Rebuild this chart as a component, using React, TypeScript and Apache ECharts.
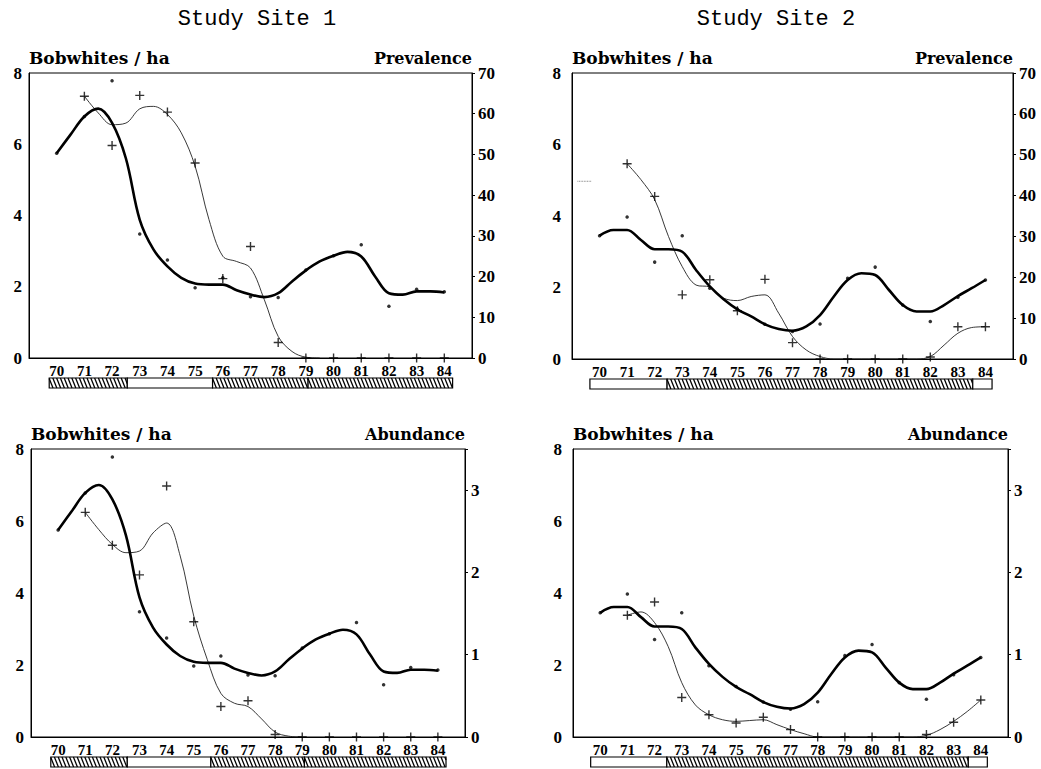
import { useEffect, useRef } from "react";
import * as echarts from "echarts";

// ---------- data ----------
const yearLabels = ["70", "71", "72", "73", "74", "75", "76", "77", "78", "79", "80", "81", "82", "83", "84"];
const years = [70, 71, 72, 73, 74, 75, 76, 77, 78, 79, 80, 81, 82, 83, 84];
const crossYears = [71, 72, 73, 74, 75, 76, 77, 78, 79, 80, 81, 82, 83, 84];
const halfYears = [70, 70.5, 71, 71.5, 72, 72.5, 73, 73.5, 74, 74.5, 75, 75.5, 76, 76.5, 77, 77.5, 78, 78.5, 79, 79.5, 80, 80.5, 81, 81.5, 82, 82.5, 83, 83.5, 84];

// Study Site 1
const s1BobDots = [5.75, 6.78, 7.78, 3.48, 2.75, 1.97, 2.25, 1.72, 1.7, 2.47, 2.87, 3.18, 1.45, 1.93, 1.86];
const s1BobCurve = [5.75, 6.27, 6.78, 7.0, 6.6, 5.6, 3.88, 3.04, 2.57, 2.25, 2.09, 2.06, 2.06, 1.9, 1.78, 1.71, 1.82, 2.15, 2.46, 2.71, 2.87, 2.98, 2.85, 2.29, 1.82, 1.78, 1.87, 1.87, 1.84];
const s1Prevalence = [64.3, 52.2, 64.5, 60.4, 47.9, 19.5, 27.4, 3.8, 0, 0, 0, 0, 0, 0];
const s1PrevCurve = [64.3, 60.2, 57.3, 57.7, 61.2, 61.8, 59.8, 55.3, 47.1, 34, 25, 23.7, 22.1, 14.3, 5.3, 1.6, 0.2, 0];
const s1Abundance = [2.73, 2.33, 1.97, 3.05, 1.4, 0.37, 0.44, 0.03, 0, 0, 0, 0, 0, 0];
const s1AbundCurve = [2.73, 2.52, 2.34, 2.24, 2.26, 2.48, 2.6, 2.2, 1.47, 0.94, 0.53, 0.41, 0.37, 0.22, 0.06, 0.01, 0];
const s1BandStart = [69.73, 72.55, 75.63, 79.08];
const s1BandEnd = [72.55, 75.63, 79.08, 84.3];
const s1BandHatched = [1, 0, 1, 1];

// Study Site 2
const s2BobDots = [3.45, 3.97, 2.71, 3.45, 1.98, 1.4, 0.97, 0.77, 0.98, 2.26, 2.57, 1.51, 1.05, 1.73, 2.21];
const s2BobCurve = [3.45, 3.61, 3.61, 3.33, 3.07, 3.07, 3.0, 2.49, 2.03, 1.67, 1.39, 1.19, 0.97, 0.84, 0.79, 0.91, 1.23, 1.75, 2.21, 2.4, 2.35, 1.93, 1.51, 1.33, 1.33, 1.51, 1.76, 1.98, 2.21];
const s2Prevalence = [47.8, 39.8, 15.7, 19.4, 11.8, 19.5, 4.0, 0, 0, 0, 0, 0.5, 7.9, 7.9];
const s2PrevCurve = [47.8, 43.9, 39.0, 30.0, 22.6, 18.1, 17.6, 14.9, 14.3, 15.3, 15.7, 11.2, 5.5, 2.2, 0.6, 0, 0, 0, 0, 0, 0, 0, 0.6, 3.4, 6.3, 7.7, 7.9];
const s2PrevFragmentX = [69.2, 69.7];
const s2PrevFragmentY = [43.5, 43.5];
const s2Abundance = [1.48, 1.64, 0.48, 0.27, 0.17, 0.24, 0.09, 0, 0, 0, 0, 0.03, 0.18, 0.45];
const s2AbundCurve = [1.48, 1.52, 1.39, 1.1, 0.66, 0.39, 0.27, 0.21, 0.19, 0.2, 0.21, 0.15, 0.09, 0.04, 0, 0, 0, 0, 0, 0, 0, 0, 0.02, 0.09, 0.19, 0.31, 0.45];
const s2BandStart = [69.65, 72.45, 83.54];
const s2BandEnd = [72.45, 83.54, 84.24];
const s2BandHatched = [0, 1, 0];

const titles = ["Study Site 1", "Study Site 2"];
const leftAxisName = "Bobwhites / ha";
const rightAxisNames = ["Prevalence", "Abundance"];

// ---------- helpers ----------
const zip = (xs: number[], ys: number[]) => xs.map((x, i) => [x, ys[i]]);
const bands = (s: number[], e: number[], h: number[]) => s.map((v, i) => [v, e[i], h[i]]);

const NUM_FONT = "'Liberation Serif', 'DejaVu Serif', serif";
const NAME_FONT = "'DejaVu Serif', serif";
const TITLE_FONT = "'Liberation Mono', monospace";

const grids = [
  { left: 29, top: 73, width: 443, height: 285 },
  { left: 572, top: 73, width: 441, height: 286 },
  { left: 31, top: 449, width: 434, height: 288 },
  { left: 573, top: 449, width: 435, height: 288 },
];

const BAND_OFFSET = 20;
const BAND_H = 10;

function renderBand(params: any, api: any) {
  const a = api.coord([api.value(0), 0]);
  const b = api.coord([api.value(1), 0]);
  const x0 = a[0];
  const x1 = b[0];
  const top = a[1] + BAND_OFFSET;
  const h = BAND_H;
  const children: any[] = [
    { type: "rect", shape: { x: x0, y: top, width: x1 - x0, height: h }, style: { fill: "#fff", stroke: null } },
  ];
  if (api.value(2)) {
    const dx = 4;
    const gap = 3.8;
    for (let s = x0 - dx; s < x1; s += gap) {
      let xs = s, ys = top, xe = s + dx, ye = top + h;
      if (xs < x0) {
        const t = (x0 - xs) / dx;
        xs = x0;
        ys = top + t * h;
      }
      if (xe > x1) {
        const t = (xe - x1) / dx;
        xe = x1;
        ye = top + h - t * h;
      }
      if (xe <= xs) continue;
      children.push({ type: "line", shape: { x1: xs, y1: ys, x2: xe, y2: ye }, style: { stroke: "#000", lineWidth: 1.3 } });
    }
  }
  children.push({
    type: "rect",
    shape: { x: x0, y: top, width: x1 - x0, height: h },
    style: { fill: "none", stroke: "#000", lineWidth: 1.2 },
  });
  return { type: "group", children };
}

const CROSS = "path://M5 0L5 10M0 5L10 5";

export default function App() {
  const ref = useRef<HTMLDivElement>(null);

  useEffect(() => {
    document.body.style.margin = "0";
    const chart = echarts.init(ref.current!, null, { renderer: "svg" });

    const panels = [
      { bobDots: s1BobDots, bobCurve: s1BobCurve, cross: s1Prevalence, curveX: halfYears.slice(2, 20), curve: s1PrevCurve, band: bands(s1BandStart, s1BandEnd, s1BandHatched), rmax: 70, rint: 10, rname: rightAxisNames[0], lmargin: 7 },
      { bobDots: s2BobDots, bobCurve: s2BobCurve, cross: s2Prevalence, curveX: halfYears.slice(2), curve: s2PrevCurve, band: bands(s2BandStart, s2BandEnd, s2BandHatched), rmax: 70, rint: 10, rname: rightAxisNames[0], lmargin: 11 },
      { bobDots: s1BobDots, bobCurve: s1BobCurve, cross: s1Abundance, curveX: halfYears.slice(2, 19), curve: s1AbundCurve, band: bands(s1BandStart, s1BandEnd, s1BandHatched), rmax: 3.5, rint: 1, rname: rightAxisNames[1], lmargin: 7 },
      { bobDots: s2BobDots, bobCurve: s2BobCurve, cross: s2Abundance, curveX: halfYears.slice(2), curve: s2AbundCurve, band: bands(s2BandStart, s2BandEnd, s2BandHatched), rmax: 3.5, rint: 1, rname: rightAxisNames[1], lmargin: 11 },
    ];

    const xAxis: any[] = [];
    const yAxis: any[] = [];
    const series: any[] = [];

    panels.forEach((p, i) => {
      xAxis.push({
        gridIndex: i,
        type: "value",
        min: 69,
        max: 85,
        interval: 1,
        axisLine: { show: true, lineStyle: { color: "#000", width: 1 } },
        axisTick: { show: false },
        splitLine: { show: false },
        axisLabel: {
          color: "#000",
          fontFamily: NUM_FONT,
          fontWeight: "bold",
          fontSize: 15,
          margin: 5,
          formatter: (v: number) => yearLabels[years.indexOf(v)] ?? "",
        },
      });
      yAxis.push({
        gridIndex: i,
        type: "value",
        position: "left",
        min: 0,
        max: 8,
        interval: 2,
        axisLine: { show: true, lineStyle: { color: "#000", width: 1 } },
        axisTick: { show: false },
        splitLine: { show: false },
        axisLabel: { color: "#000", fontFamily: NUM_FONT, fontWeight: "bold", fontSize: 17, margin: p.lmargin },
        name: leftAxisName,
        nameLocation: "end",
        nameGap: 7,
        nameTextStyle: { color: "#000", fontFamily: NAME_FONT, fontWeight: "bold", fontSize: 17, align: "left" },
      });
      yAxis.push({
        gridIndex: i,
        type: "value",
        position: "right",
        min: 0,
        max: p.rmax,
        interval: p.rint,
        axisLine: { show: true, lineStyle: { color: "#000", width: 1 } },
        axisTick: { show: true, length: 3, lineStyle: { color: "#000" } },
        splitLine: { show: false },
        axisLabel: {
          color: "#000",
          fontFamily: NUM_FONT,
          fontWeight: "bold",
          fontSize: 17,
          margin: 6,
          formatter: (v: number) => (Number.isInteger(v) ? String(v) : ""),
        },
        name: p.rname,
        nameLocation: "end",
        nameGap: 7,
        nameTextStyle: { color: "#000", fontFamily: NAME_FONT, fontWeight: "bold", fontSize: 16, align: "right" },
      });

      const ly = i * 2;
      const ry = i * 2 + 1;

      series.push({
        type: "custom",
        xAxisIndex: i,
        yAxisIndex: ly,
        clip: false,
        silent: true,
        encode: { x: [0, 1], y: 2 },
        renderItem: renderBand,
        data: p.band,
        z: 1,
      });
      series.push({
        type: "line",
        xAxisIndex: i,
        yAxisIndex: ry,
        data: zip(p.curveX, p.curve),
        smooth: 0.35,
        showSymbol: false,
        symbol: "none",
        lineStyle: { color: "#222", width: 0.9 },
        z: 2,
      });
      if (i === 1) {
        series.push({
          type: "line",
          xAxisIndex: i,
          yAxisIndex: ry,
          data: zip(s2PrevFragmentX, s2PrevFragmentY),
          symbol: "none",
          lineStyle: { color: "#555", width: 0.8, type: "dotted" },
          z: 2,
        });
      }
      series.push({
        type: "line",
        xAxisIndex: i,
        yAxisIndex: ly,
        data: zip(halfYears, p.bobCurve),
        smooth: 0.35,
        showSymbol: false,
        symbol: "none",
        lineStyle: { color: "#000", width: 2.6 },
        z: 3,
      });
      series.push({
        type: "scatter",
        xAxisIndex: i,
        yAxisIndex: ly,
        data: zip(years, p.bobDots),
        symbol: "circle",
        symbolSize: 3.5,
        itemStyle: { color: "#000" },
        z: 4,
      });
      series.push({
        type: "scatter",
        xAxisIndex: i,
        yAxisIndex: ry,
        data: zip(crossYears, p.cross),
        symbol: CROSS,
        symbolSize: 9,
        itemStyle: { color: "#000", borderColor: "#000", borderWidth: 1.4 },
        z: 4,
      });
    });

    chart.setOption({
      animation: false,
      backgroundColor: "#fff",
      grid: grids.map((g) => ({ ...g, show: true, borderColor: "#000", borderWidth: 1, backgroundColor: "transparent", containLabel: false })),
      xAxis,
      yAxis,
      series,
      graphic: [
        {
          type: "text",
          x: 257,
          y: 19,
          style: { text: titles[0], fill: "#000", fontFamily: TITLE_FONT, fontSize: 22, align: "center", verticalAlign: "middle", textAlign: "center", textVerticalAlign: "middle" },
        },
        {
          type: "text",
          x: 776,
          y: 19,
          style: { text: titles[1], fill: "#000", fontFamily: TITLE_FONT, fontSize: 22, align: "center", verticalAlign: "middle", textAlign: "center", textVerticalAlign: "middle" },
        },
      ],
    });

    return () => chart.dispose();
  }, []);

  return <div ref={ref} style={{ position: "fixed", left: 0, top: 0, width: 1041, height: 769, background: "#fff" }} />;
}
